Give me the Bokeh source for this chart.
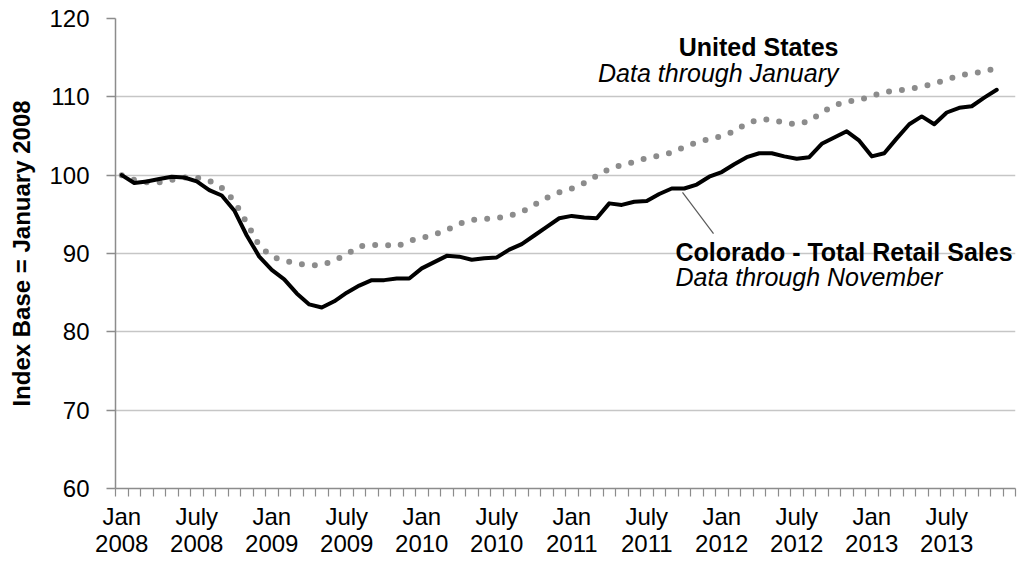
from bokeh.plotting import figure
from bokeh.models import Range1d, FixedTicker, Label, ColumnDataSource
from bokeh.embed import file_html
from bokeh.resources import INLINE

month_names = ["Jan", "Feb", "Mar", "Apr", "May", "Jun",
               "Jul", "Aug", "Sep", "Oct", "Nov", "Dec"]
years = [2008, 2009, 2010, 2011, 2012, 2013]
categories = [f"{m} {y}" for y in years for m in month_names]  # Jan 2008 .. Dec 2013

# Colorado - Total Retail Sales index (Jan 2008 = 100), Jan 2008 .. Nov 2013
colorado = [
    100.0, 99.0, 99.2, 99.5, 99.8, 99.7, 99.2, 98.1, 97.4, 95.5, 92.3, 89.6,
    87.9, 86.7, 84.9, 83.5, 83.1, 83.9, 85.0, 85.9, 86.6, 86.6, 86.8, 86.8,
    88.1, 88.9, 89.7, 89.6, 89.2, 89.4, 89.5, 90.5, 91.2, 92.3, 93.4, 94.5,
    94.8, 94.6, 94.5, 96.4, 96.2, 96.6, 96.7, 97.6, 98.3, 98.3, 98.8, 99.8,
    100.4, 101.4, 102.3, 102.8, 102.8, 102.4, 102.1, 102.3, 104.0, 104.8, 105.6, 104.4,
    102.4, 102.8, 104.7, 106.5, 107.5, 106.5, 108.0, 108.6, 108.8, 109.9, 110.9,
]

# United States index (Jan 2008 = 100)
united_states = [
    100.0, 99.4, 99.1, 99.1, 99.4, 99.7, 99.7, 99.3, 98.4, 96.7, 93.9, 91.0,
    89.6, 89.1, 88.7, 88.5, 88.5, 89.1, 89.9, 90.9, 91.1, 91.1, 90.9, 91.6,
    92.0, 92.4, 93.0, 93.8, 94.3, 94.4, 94.5, 94.8, 95.3, 96.2, 97.1, 97.8,
    98.3, 99.0, 99.9, 100.8, 101.3, 101.7, 102.2, 102.5, 102.9, 103.6, 104.2, 104.6,
    105.0, 105.6, 106.6, 107.1, 107.1, 106.7, 106.5, 106.9, 108.0, 108.9, 109.4, 109.6,
    110.1, 110.6, 110.8, 111.0, 111.3, 111.7, 112.2, 112.7, 113.0, 113.2, 113.7,
]

tick_labels = ["Jan\n2008", "July\n2008", "Jan\n2009", "July\n2009", "Jan\n2010",
               "July\n2010", "Jan\n2011", "July\n2011", "Jan\n2012", "July\n2012",
               "Jan\n2013", "July\n2013"]
y_ticks = [60, 70, 80, 90, 100, 110, 120]

FONT = "Liberation Sans"

n_cat = len(categories)
tick_positions = [i * 6 for i in range(len(tick_labels))]

co_src = ColumnDataSource(dict(x=list(range(len(colorado))), y=colorado))
us_src = ColumnDataSource(dict(x=list(range(len(united_states))), y=united_states))

p = figure(width=1019, height=562,
           x_range=Range1d(-0.5, n_cat - 0.5), y_range=Range1d(60, 120),
           output_backend="svg", toolbar_location=None,
           min_border_left=115, min_border_right=4,
           min_border_top=18, min_border_bottom=74)
p.outline_line_color = None
p.background_fill_color = "white"
p.border_fill_color = "white"

p.xgrid.visible = False
p.ygrid.grid_line_color = "#c6c6c6"
p.ygrid.grid_line_width = 1.5

# y axis
p.yaxis.ticker = FixedTicker(ticks=y_ticks)
p.yaxis.axis_line_color = "#8c8c8c"
p.yaxis.axis_line_width = 1.5
p.yaxis.major_tick_line_color = "#8c8c8c"
p.yaxis.major_tick_line_width = 1.5
p.yaxis.major_tick_out = 9
p.yaxis.major_tick_in = 0
p.yaxis.minor_tick_line_color = None
p.yaxis.major_label_text_font = FONT
p.yaxis.major_label_text_font_size = "24px"
p.yaxis.major_label_text_color = "#000000"
p.yaxis.major_label_standoff = 17
p.yaxis.axis_label = "Index Base = January 2008"
p.yaxis.axis_label_text_font = FONT
p.yaxis.axis_label_text_font_style = "bold"
p.yaxis.axis_label_text_font_size = "24px"
p.yaxis.axis_label_text_color = "#000000"
p.yaxis.axis_label_standoff = 11

# x axis (category style: ticks between months, labels centred)
p.xaxis.ticker = FixedTicker(ticks=tick_positions,
                             minor_ticks=[i - 0.5 for i in range(n_cat + 1)])
p.xaxis.major_label_overrides = {pos: lab for pos, lab in zip(tick_positions, tick_labels)}
p.xaxis.axis_line_color = "#8c8c8c"
p.xaxis.axis_line_width = 1.5
p.xaxis.major_tick_line_color = None
p.xaxis.major_tick_out = 8
p.xaxis.major_tick_in = 0
p.xaxis.minor_tick_line_color = "#8c8c8c"
p.xaxis.minor_tick_line_width = 1.2
p.xaxis.minor_tick_out = 8
p.xaxis.minor_tick_in = 0
p.xaxis.major_label_text_font = FONT
p.xaxis.major_label_text_font_size = "24px"
p.xaxis.major_label_text_color = "#000000"
p.xaxis.major_label_text_line_height = 1.0
p.xaxis.major_label_standoff = 6

# series
p.line("x", "y", source=us_src, line_color="#8c8c8c", line_width=6,
       line_dash="0 13", line_cap="round")
p.line("x", "y", source=co_src, line_color="#000000", line_width=4,
       line_join="round", line_cap="round")

# leader line for Colorado label
p.segment(x0=[44.86], y0=[97.8], x1=[47.34], y1=[92.55],
          line_color="#595959", line_width=1.2)

def add_label(x, y, text, style, align):
    p.add_layout(Label(x=x, y=y, text=text, text_align=align,
                       text_baseline="alphabetic", text_font=FONT,
                       text_font_style=style, text_font_size="25px",
                       text_color="#000000"))

add_label(57.34, 116.4, "United States", "bold", "right")
add_label(57.34, 113.1, "Data through January", "italic", "right")
add_label(44.3, 90.2, "Colorado - Total Retail Sales", "bold", "left")
add_label(44.3, 87.0, "Data through November", "italic", "left")

open("out.html", "w").write(file_html(p, INLINE))
